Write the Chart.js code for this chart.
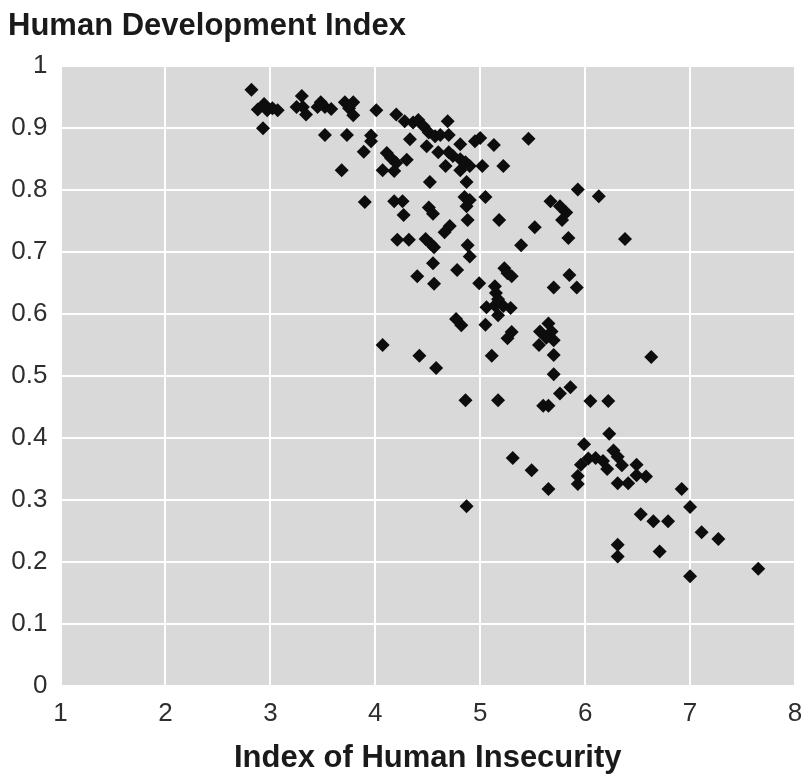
<!DOCTYPE html>
<html>
<head>
<meta charset="utf-8">
<script src="https://cdn.jsdelivr.net/npm/chart.js@4/dist/chart.umd.min.js"></script>
<style>
    html, body { margin: 0; padding: 0; background: #ffffff; }
    #wrap { width: 804px; height: 776px; }
</style>
</head>
<body>
<div id="wrap"><canvas id="hdiChart" width="804" height="776"></canvas></div>
<script>
// ─── Data ───────────────────────────────────────────────────────────────────
const insecurityIndex = [
    2.82, 2.88, 2.94, 2.97, 3.02, 3.07, 2.93, 3.30, 3.25, 3.31,
    3.34, 3.45, 3.48, 3.52, 3.58, 3.71, 3.79, 3.75, 3.79, 3.52,
    3.73, 3.68, 3.96, 3.96, 3.89, 4.01, 3.90, 4.20, 4.28, 4.36,
    4.41, 4.46, 4.51, 4.57, 4.62, 4.69, 4.70, 4.33, 4.11, 4.15,
    4.20, 4.30, 4.07, 4.18, 4.49, 4.60, 4.70, 4.74, 4.81, 4.86,
    4.90, 4.81, 4.95, 5.00, 5.13, 5.46, 4.67, 4.81, 5.02, 5.22,
    4.52, 4.87, 4.85, 4.90, 4.87, 5.05, 4.18, 4.26, 4.27, 4.51,
    4.55, 4.88, 5.18, 5.93, 6.13, 5.67, 5.76, 5.82, 5.78, 5.52,
    5.84, 6.38, 5.39, 4.71, 4.66, 4.21, 4.32, 4.48, 4.53, 4.56,
    4.88, 4.90, 4.55, 4.78, 4.40, 4.56, 4.99, 5.23, 5.26, 5.30,
    5.14, 5.15, 5.70, 5.85, 5.92, 5.06, 5.14, 5.22, 5.29, 5.17,
    5.17, 4.77, 4.82, 5.05, 5.30, 5.26, 5.57, 5.65, 5.68, 5.63,
    5.70, 5.56, 4.07, 4.42, 5.11, 4.58, 5.70, 5.70, 6.63, 5.86,
    5.76, 4.86, 5.17, 5.60, 5.65, 6.05, 6.22, 6.23, 5.99, 5.31,
    5.49, 5.65, 5.96, 6.03, 6.10, 6.17, 6.21, 6.27, 6.31, 6.35,
    6.49, 6.49, 6.58, 5.93, 5.93, 6.31, 6.41, 6.92, 7.00, 6.53,
    6.65, 6.79, 7.11, 7.27, 6.31, 6.31, 6.71, 7.00, 7.65, 4.87
];

const developmentIndex = [
    0.962, 0.930, 0.939, 0.929, 0.932, 0.929, 0.900, 0.952, 0.934, 0.934,
    0.922, 0.934, 0.942, 0.934, 0.931, 0.942, 0.942, 0.932, 0.921, 0.889,
    0.889, 0.832, 0.888, 0.879, 0.862, 0.929, 0.781, 0.922, 0.911, 0.909,
    0.913, 0.903, 0.893, 0.887, 0.889, 0.911, 0.889, 0.882, 0.860, 0.852,
    0.844, 0.849, 0.832, 0.831, 0.871, 0.861, 0.861, 0.855, 0.850, 0.845,
    0.839, 0.874, 0.879, 0.884, 0.873, 0.883, 0.839, 0.832, 0.839, 0.839,
    0.813, 0.813, 0.789, 0.784, 0.774, 0.789, 0.782, 0.782, 0.760, 0.772,
    0.762, 0.752, 0.752, 0.801, 0.790, 0.782, 0.774, 0.764, 0.752, 0.740,
    0.723, 0.721, 0.711, 0.742, 0.732, 0.720, 0.720, 0.721, 0.713, 0.708,
    0.711, 0.693, 0.682, 0.671, 0.661, 0.649, 0.650, 0.674, 0.666, 0.661,
    0.645, 0.634, 0.643, 0.663, 0.643, 0.611, 0.614, 0.613, 0.610, 0.624,
    0.598, 0.592, 0.582, 0.583, 0.571, 0.561, 0.572, 0.585, 0.572, 0.562,
    0.558, 0.550, 0.550, 0.533, 0.533, 0.513, 0.534, 0.503, 0.531, 0.482,
    0.472, 0.461, 0.461, 0.452, 0.452, 0.460, 0.460, 0.407, 0.390, 0.368,
    0.348, 0.318, 0.357, 0.367, 0.368, 0.363, 0.350, 0.380, 0.370, 0.356,
    0.357, 0.340, 0.338, 0.339, 0.326, 0.327, 0.327, 0.318, 0.289, 0.277,
    0.266, 0.266, 0.248, 0.237, 0.228, 0.209, 0.217, 0.177, 0.189, 0.290
];

const xTickLabels = ["1", "2", "3", "4", "5", "6", "7", "8"];
const yTickLabels = ["0", "0.1", "0.2", "0.3", "0.4", "0.5", "0.6", "0.7", "0.8", "0.9", "1"];

// ─── Styles ─────────────────────────────────────────────────────────────────
const FONT_FAMILY = "'Liberation Sans', Arial, sans-serif";
const PLOT_BG     = "#d9d9d9";
const TEXT_DARK   = "#1a1a1a";
const TICK_COLOR  = "#2e2e2e";

// Grey panel behind the grid
const plotBackground = {
    id: "plotBackground",
    beforeDraw(chart) {
        const { ctx, chartArea: a } = chart;
        ctx.save();
        ctx.fillStyle = PLOT_BG;
        ctx.fillRect(a.left, a.top, a.right - a.left, a.bottom - a.top);
        ctx.restore();
    },
};

const points = insecurityIndex.map((x, i) => ({ x: x, y: developmentIndex[i] }));

new Chart(document.getElementById("hdiChart").getContext("2d"), {
    type: "scatter",
    data: {
        datasets: [{
            data: points,
            pointStyle: "rectRot",
            pointRadius: 7,
            pointHoverRadius: 7,
            backgroundColor: "#0d0d0d",
            borderColor: "#0d0d0d",
            borderWidth: 0,
        }],
    },
    options: {
        responsive: false,
        animation: false,
        layout: { padding: { left: 8, right: 9, top: 0, bottom: 0 } },
        plugins: {
            legend: { display: false },
            tooltip: { enabled: false },
            title: {
                display: true,
                text: "Human Development Index",
                align: "start",
                color: TEXT_DARK,
                font: { family: FONT_FAMILY, size: 31, weight: "bold" },
                padding: { top: 8, bottom: 21 },
            },
        },
        scales: {
            x: {
                type: "linear",
                min: 1,
                max: 8,
                afterFit: (axis) => {
                    axis.height = 90;
                    axis.paddingLeft = 0;
                    axis.paddingRight = 0;
                },
                afterBuildTicks: (axis) => {
                    axis.ticks = xTickLabels.map(v => ({ value: Number(v) }));
                },
                ticks: {
                    callback: (v, i) => xTickLabels[i],
                    color: TICK_COLOR,
                    padding: 12,
                    maxRotation: 0,
                    font: { family: FONT_FAMILY, size: 26 },
                },
                grid: { color: "#ffffff", lineWidth: 2, drawTicks: false },
                border: { display: false },
                title: {
                    display: true,
                    text: "Index of Human Insecurity",
                    color: TEXT_DARK,
                    font: { family: FONT_FAMILY, size: 31, weight: "bold" },
                    padding: { top: 0, bottom: -1 },
                },
            },
            y: {
                type: "linear",
                min: 0,
                max: 1,
                afterFit: (axis) => {
                    axis.width = 52.5;
                    axis.paddingTop = 0;
                    axis.paddingBottom = 0;
                },
                afterBuildTicks: (axis) => {
                    axis.ticks = yTickLabels.map(v => ({ value: Number(v) }));
                },
                ticks: {
                    callback: (v, i) => yTickLabels[i],
                    color: TICK_COLOR,
                    padding: 13,
                    font: { family: FONT_FAMILY, size: 26 },
                },
                grid: { color: "#ffffff", lineWidth: 2, drawTicks: false },
                border: { display: false },
            },
        },
    },
    plugins: [plotBackground],
});
</script>
</body>
</html>
